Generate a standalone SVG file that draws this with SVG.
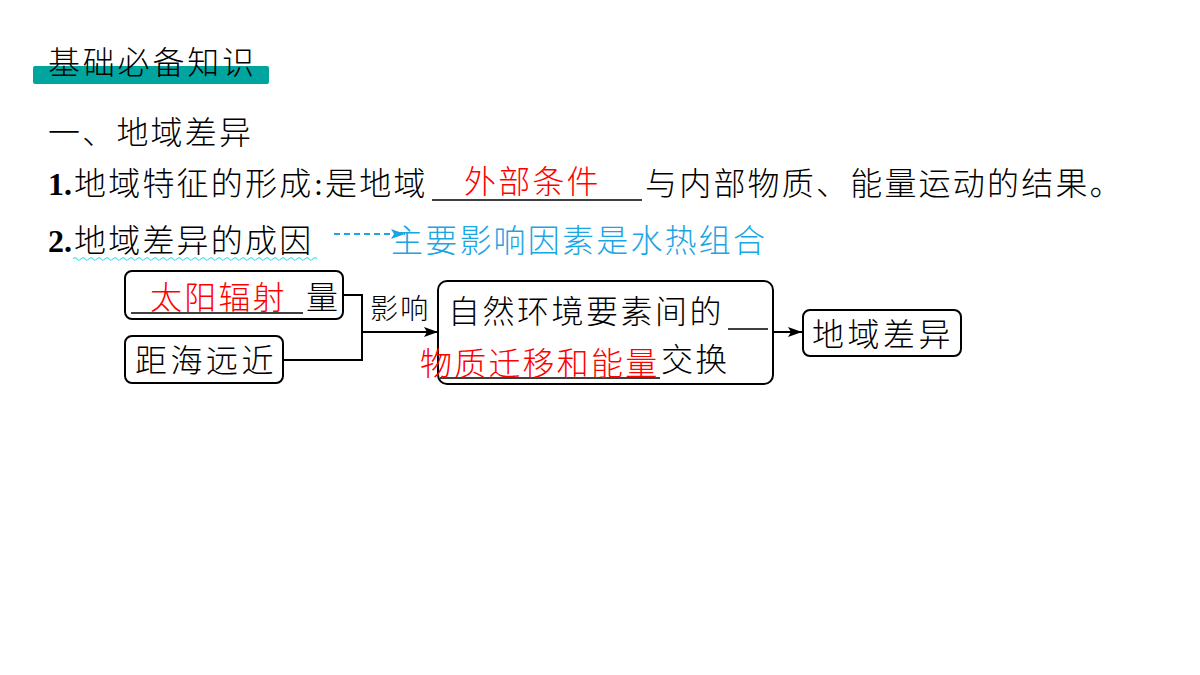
<svg xmlns="http://www.w3.org/2000/svg" width="1200" height="675" viewBox="0 0 1200 675">
<style>
.cj{font-family:"Noto Sans CJK SC","Noto Sans",sans-serif;font-size:32px;font-weight:300;letter-spacing:2.2px;fill:#000}
.num{font-family:"Liberation Serif",serif;font-size:32px;font-weight:bold;fill:#000}
.ser{font-family:"Liberation Serif",serif;font-size:32px;fill:#000}
.red{fill:#FF0000}
.cyan{fill:#1AA5E3}
.box{fill:#fff;stroke:#000;stroke-width:2}
.ln{fill:none;stroke:#000;stroke-width:2}
.ul{stroke:#000;stroke-width:1.6}
</style>
<defs>
<marker id="ah" markerWidth="14" markerHeight="10" refX="14" refY="5" orient="auto" markerUnits="userSpaceOnUse">
<path d="M0,0 L14,5 L0,10 L3,5 Z" fill="#000"/>
</marker>
<marker id="ahc" markerWidth="14" markerHeight="10" refX="14" refY="5" orient="auto" markerUnits="userSpaceOnUse">
<path d="M0,0 L14,5 L0,10 L3,5 Z" fill="#1AA5E3"/>
</marker>
</defs>
<rect width="1200" height="675" fill="#fff"/>

<g id="title">
<rect x="33" y="66" width="236" height="18" rx="2" fill="#00A59F"/>
<text class="cj" style="letter-spacing:2.8px" x="48" y="74">基础必备知识</text>
</g>

<g id="heading">
<text class="cj" x="48" y="144">一、地域差异</text>
</g>

<g id="line1">
<text class="num" x="48" y="195">1.</text>
<text class="cj" x="74" y="195">地域特征的形成</text>
<text class="ser" x="314" y="195">:</text>
<text class="cj" x="325" y="195">是地域</text>
<line class="ul" x1="432" y1="200" x2="642" y2="200"/>
<text class="cj red" x="464" y="193">外部条件</text>
<text class="cj" x="645" y="195">与内部物质、能量运动的结果。</text>
</g>

<g id="line2">
<text class="num" x="48" y="252">2.</text>
<text class="cj" x="74" y="252">地域差异的成因</text>
<path d="M73,259 q2,-2.5 4,0 t4,0 t4,0 t4,0 t4,0 t4,0 t4,0 t4,0 t4,0 t4,0 t4,0 t4,0 t4,0 t4,0 t4,0 t4,0 t4,0 t4,0 t4,0 t4,0 t4,0 t4,0 t4,0 t4,0 t4,0 t4,0 t4,0 t4,0 t4,0 t4,0 t4,0 t4,0 t4,0 t4,0 t4,0 t4,0 t4,0 t4,0 t4,0 t4,0 t4,0 t4,0 t4,0 t4,0 t4,0 t4,0 t4,0 t4,0 t4,0 t4,0 t4,0 t4,0 t4,0 t4,0 t4,0 t4,0 t4,0 t4,0 t4,0 t4,0 t4,0" fill="none" stroke="#33DDEE" stroke-width="1.2"/>
<text class="cj cyan" x="391" y="252">主要影响因素是水热组合</text>
</g>

<g id="connectors">
<line x1="334" y1="234" x2="405" y2="234" stroke="#1AA5E3" stroke-width="1.8" stroke-dasharray="6,4" marker-end="url(#ahc)"/>
<polyline class="ln" points="343,295 362,295 362,360 284,360"/>
<line class="ln" x1="362" y1="332" x2="438" y2="332" marker-end="url(#ah)"/>
<line class="ln" x1="774" y1="332" x2="802" y2="332" marker-end="url(#ah)"/>
<text class="cj" style="font-size:28px" x="370" y="319">影响</text>
</g>

<g id="node-sun">
<rect class="box" x="125" y="271" width="218" height="48" rx="7"/>
<line class="ul" x1="131" y1="313" x2="303" y2="313"/>
<text class="cj red" x="150" y="309">太阳辐射</text>
<text class="cj" x="306" y="309">量</text>
</g>

<g id="node-sea">
<rect class="box" x="125" y="336" width="158" height="47" rx="7"/>
<text class="cj" style="letter-spacing:3.5px" x="135" y="372">距海远近</text>
</g>

<g id="node-exchange">
<rect class="box" x="438" y="281" width="335" height="103" rx="9"/>
<text class="cj" style="letter-spacing:2.5px" x="448" y="323">自然环境要素间的</text>
<line class="ul" x1="728" y1="329" x2="768" y2="329"/>
<line class="ul" x1="440" y1="378" x2="660" y2="378"/>
<text class="cj red" x="420" y="375">物质迁移和能量</text>
<text class="cj" x="661" y="371">交换</text>
</g>

<g id="node-diff">
<rect class="box" x="803" y="310" width="158" height="46" rx="7"/>
<text class="cj" style="letter-spacing:3.5px" x="812" y="346">地域差异</text>
</g>
</svg>
